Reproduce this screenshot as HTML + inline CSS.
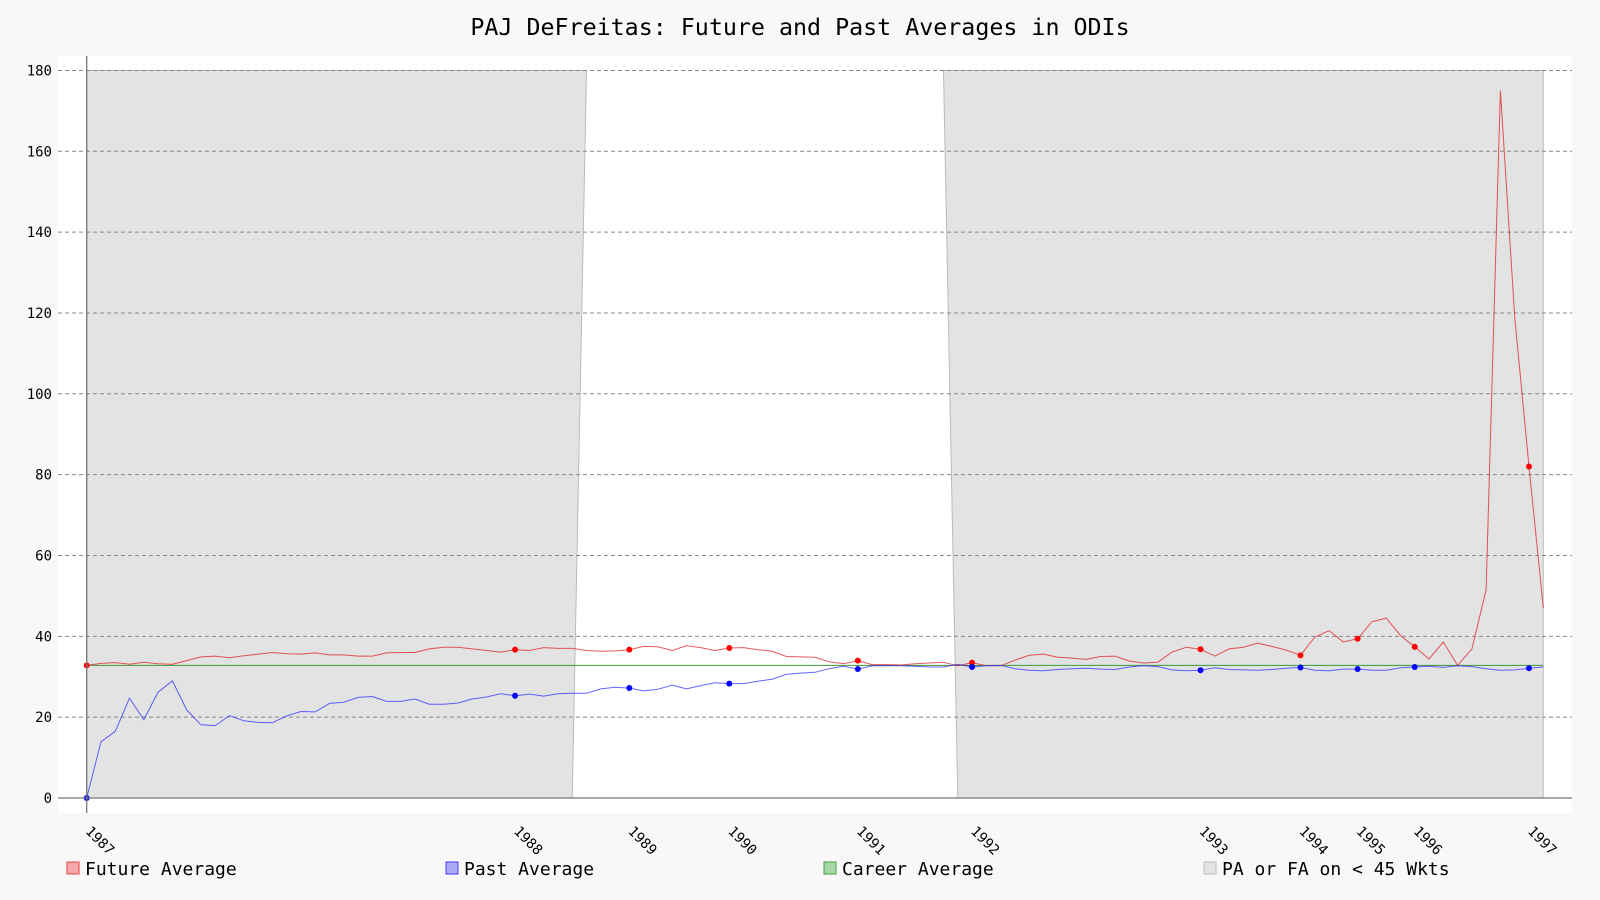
<!DOCTYPE html>
<html><head><meta charset="utf-8"><style>
html,body{margin:0;padding:0;background:#f8f8f8;}
svg{display:block;font-family:"DejaVu Sans Mono","Liberation Mono",monospace;}
</style></head><body>
<svg id="chart" width="1600" height="900">
<rect x="0" y="0" width="1600" height="900" fill="#f8f8f8"/>
<text x="800" y="35" text-anchor="middle" font-size="23.3" fill="#000">PAJ DeFreitas: Future and Past Averages in ODIs</text>
<rect x="58" y="56" width="1514" height="757" fill="#fff"/>
<g id="shade"></g><g id="grid"></g><g id="lines"></g><g id="axes"></g><g id="legend"></g>
</svg>
<script>
const futureAvg=[32.8,33.3,33.5,33.1,33.6,33.2,33.1,34.0,34.9,35.1,34.7,35.2,35.6,36.0,35.7,35.6,35.9,35.4,35.4,35.1,35.1,35.9,36.0,36.0,36.9,37.3,37.3,36.9,36.5,36.1,36.7,36.5,37.2,37.0,37.0,36.5,36.3,36.4,36.7,37.5,37.4,36.5,37.7,37.2,36.5,37.1,37.2,36.7,36.3,35.0,34.9,34.8,33.7,33.2,34.0,33.0,33.0,32.9,33.2,33.4,33.6,32.7,33.5,32.7,32.7,34.1,35.3,35.6,34.8,34.6,34.3,35.0,35.1,33.9,33.4,33.6,36.1,37.3,36.8,35.1,36.9,37.3,38.3,37.5,36.6,35.3,39.8,41.4,38.6,39.4,43.6,44.5,40.2,37.4,34.4,38.6,32.8,36.9,51.5,175.0,119.0,82.0,47.0];
const pastAvg=[0,13.9,16.5,24.7,19.4,26.2,29.0,21.8,18.1,17.9,20.4,19.1,18.7,18.6,20.3,21.4,21.3,23.4,23.7,24.9,25.1,23.9,23.9,24.5,23.2,23.2,23.5,24.5,25.0,25.8,25.3,25.7,25.2,25.8,25.9,25.9,27.0,27.4,27.2,26.5,26.9,27.9,27.0,27.8,28.5,28.3,28.3,28.9,29.4,30.6,30.9,31.1,32.0,32.6,31.9,32.7,32.7,32.7,32.6,32.4,32.4,33.1,32.4,32.7,32.8,32.0,31.6,31.5,31.8,32.0,32.1,31.9,31.8,32.4,32.7,32.5,31.7,31.5,31.6,32.2,31.8,31.7,31.6,31.8,32.1,32.3,31.6,31.5,31.9,31.9,31.6,31.6,32.2,32.4,32.6,32.3,32.7,32.5,32.0,31.6,31.7,32.1,32.4];
const careerAvg=32.8;
const markerIdx=[0,30,38,45,54,62,78,85,89,93,101];
const yearLabels=["1987","1988","1989","1990","1991","1992","1993","1994","1995","1996","1997"];
const yTicks=[0,20,40,60,80,100,120,140,160,180];
const shadeRanges=[[0,35,34],[60,102,61]];
const legendLabels=["Future Average","Past Average","Career Average","PA or FA on < 45 Wkts"];

const NS="http://www.w3.org/2000/svg";
const X0=86.7,DX=14.28,Y0=798,KY=4.042;
function xs(i){return X0+DX*i;}
function ys(v){return Y0-KY*v;}
function mk(tag,attrs,parent){const e=document.createElementNS(NS,tag);for(const k in attrs)e.setAttribute(k,attrs[k]);parent.appendChild(e);return e;}
const gS=document.getElementById('shade'),gG=document.getElementById('grid'),gL=document.getElementById('lines'),gA=document.getElementById('axes'),gLeg=document.getElementById('legend');

{
 const r=shadeRanges[0];
 const p=mk('polygon',{points:`${xs(0)},${ys(180)} ${xs(r[1])},${ys(180)} ${xs(r[2])},${ys(0)} ${xs(0)},${ys(0)}`,fill:'#e3e3e3',stroke:'#bbb','stroke-width':1},gS);
 
 
 const r2=shadeRanges[1];
 const p2=mk('polygon',{points:`${xs(r2[0])},${ys(180)} ${xs(r2[1])},${ys(180)} ${xs(r2[1])},${ys(0)} ${xs(r2[2])},${ys(0)}`,fill:'#e3e3e3',stroke:'#bbb','stroke-width':1},gS);
 
 
}
yTicks.forEach(t=>{
 if(t>0){const l=mk('line',{x1:58,x2:1572,y1:ys(t),y2:ys(t),stroke:'#888','stroke-dasharray':'4,3','stroke-width':1},gG);
 
 }
 const tx=mk('text',{x:52,y:ys(t)+5,'text-anchor':'end','font-size':14,fill:'#000'},gG);
 tx.textContent=t;
 
 
});
{const l=mk('line',{x1:xs(0),x2:xs(futureAvg.length-1),y1:ys(careerAvg),y2:ys(careerAvg),stroke:'#3a9a3a','stroke-width':1},gL);

}
function series(arr,color,name){
 const pts=arr.map((v,i)=>xs(i).toFixed(1)+','+ys(v).toFixed(1)).join(' ');
 const pl=mk('polyline',{points:pts,fill:'none',stroke:color,'stroke-width':1,'stroke-opacity':0.75},gL);
 
 
}
series(futureAvg,'#e02020','future-average');
series(pastAvg,'#3030ff','past-average');
markerIdx.forEach(i=>{
 const a=mk('circle',{cx:xs(i),cy:ys(futureAvg[i]),r:3,fill:'#f00'},gL);
 
 
 const b=mk('circle',{cx:xs(i),cy:ys(pastAvg[i]),r:3,fill:'#00f'},gL);
 
 
});
{const a=mk('line',{x1:58,x2:1572,y1:Y0,y2:Y0,stroke:'#777','stroke-width':1.3},gA);


const b=mk('line',{x1:X0,x2:X0,y1:56,y2:813,stroke:'#777','stroke-width':1.3},gA);

}
markerIdx.forEach((i,k)=>{
 const x=xs(i)-2;
 const t=mk('text',{x:x,y:832,'font-size':14,fill:'#000',transform:`rotate(45 ${x} 832)`},gA);
 t.textContent=yearLabels[k];
 
 
});
const legFill=['#f7a8a8','#aaaaf7','#a8d8a8','#e3e3e3'],legStroke=['#f04040','#4040f0','#40a040','#bbb'],legX=[67,446,824,1204];
legendLabels.forEach((lab,k)=>{
 const g=mk('g',{},gLeg);
 
 
 mk('rect',{x:legX[k],y:862,width:12,height:12,fill:legFill[k],stroke:legStroke[k],'stroke-width':1},g);
 const t=mk('text',{x:legX[k]+18,y:875,'font-size':18,fill:'#000'},g);
 t.textContent=lab;
});
</script>
</body></html>
